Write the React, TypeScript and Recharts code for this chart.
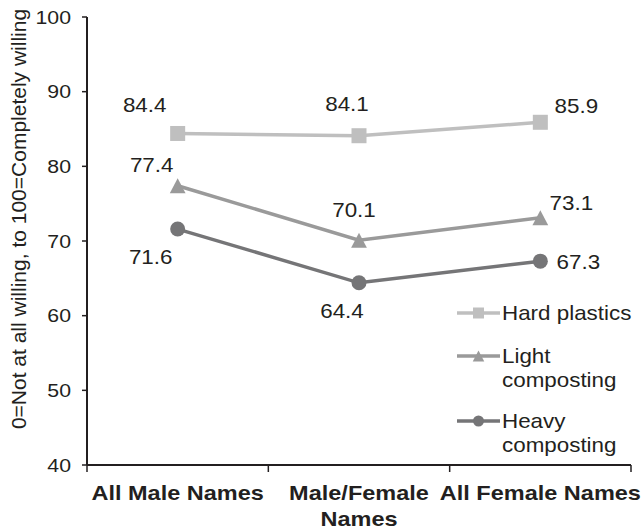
import React from "react";
import { LineChart, Line, XAxis, YAxis, Legend, LabelList } from "recharts";

// categories along the x axis, with how each label wraps
const categories = ["All Male Names", "Male/Female Names", "All Female Names"];
const categoryLines = [["All Male Names"], ["Male/Female", "Names"], ["All Female Names"]];

// mean willingness scores
const hardPlastics = [84.4, 84.1, 85.9];
const lightComposting = [77.4, 70.1, 73.1];
const heavyComposting = [71.6, 64.4, 67.3];

const yTicks = [40, 50, 60, 70, 80, 90, 100];

const data = categories.map((name, i) => ({
  name,
  hard: hardPlastics[i],
  light: lightComposting[i],
  heavy: heavyComposting[i],
}));

const FONT = '"Liberation Sans", Arial, Helvetica, sans-serif';
const INK = "#231f20";
const W = 643;
const H = 532;
const PLOT_W = 544;
const BAND_HALF = PLOT_W / 6;
// the original's type is a little wider than Arial
const STRETCH = 1.12;

// where each value label sits relative to its point (hand placed, like the original)
const hardShift = [[-33, -29], [-12, -32], [36, -16]];
const lightShift = [[-26, -21], [-5, -30], [31, -15]];
const heavyShift = [[-27, 28], [-17, 28], [38, 1]];

const series = [
  { key: "hard", name: "Hard plastics", legend: ["Hard plastics"], color: "#bfbfbf", shape: "square", shift: hardShift },
  { key: "light", name: "Light composting", legend: ["Light", "composting"], color: "#9a9a9a", shape: "triangle", shift: lightShift },
  { key: "heavy", name: "Heavy composting", legend: ["Heavy", "composting"], color: "#757577", shape: "circle", shift: heavyShift },
];

function SText({ x, y, anchor = "middle", size, bold, baseline, children }: any) {
  return (
    <g transform={`translate(${x} ${y}) scale(${STRETCH} 1)`}>
      <text
        x={0}
        y={0}
        textAnchor={anchor}
        dominantBaseline={baseline}
        fontFamily={FONT}
        fontSize={size}
        fontWeight={bold ? "bold" : "normal"}
        fill={INK}
      >
        {children}
      </text>
    </g>
  );
}

function Marker({ shape, cx, cy, size, color }: any) {
  if (shape === "square") {
    return <rect x={cx - size / 2} y={cy - size / 2} width={size} height={size} fill={color} />;
  }
  if (shape === "triangle") {
    const w = size * 1.05;
    return (
      <polygon
        points={`${cx},${cy - size / 2} ${cx + w / 2},${cy + size / 2} ${cx - w / 2},${cy + size / 2}`}
        fill={color}
      />
    );
  }
  return <circle cx={cx} cy={cy} r={size / 2} fill={color} />;
}

function CategoryTick(props: any) {
  const { x, y, index } = props;
  const lines = categoryLines[index] || [];
  return (
    <g>
      <line x1={x - BAND_HALF} x2={x - BAND_HALF} y1={y} y2={y + 7} stroke={INK} strokeWidth={1.5} />
      {index === categories.length - 1 && (
        <line x1={x + BAND_HALF} x2={x + BAND_HALF} y1={y} y2={y + 7} stroke={INK} strokeWidth={1.5} />
      )}
      {lines.map((t: string, i: number) => (
        <SText key={t} x={x} y={y + 35 + i * 26} size={21} bold>
          {t}
        </SText>
      ))}
    </g>
  );
}

function ValueTick(props: any) {
  const { x, y, payload } = props;
  return (
    <SText x={x} y={y} anchor="end" baseline="central" size={19}>
      {payload.value}
    </SText>
  );
}

function valueLabel(props: any, shift: number[][]) {
  const { x, y, value, index } = props;
  const [dx, dy] = shift[index] || [0, -20];
  return (
    <SText key={`lbl-${index}`} x={x + dx} y={y + dy} baseline="central" size={20}>
      {value.toFixed(1)}
    </SText>
  );
}

function LegendBox() {
  const rows = [15, 58, 123];
  return (
    <svg width={190} height={165} style={{ display: "block" }}>
      {series.map((s, i) => (
        <g key={s.key}>
          <line x1={2} x2={45} y1={rows[i]} y2={rows[i]} stroke={s.color} strokeWidth={3.5} />
          <Marker shape={s.shape} cx={23.5} cy={rows[i]} size={11} color={s.color} />
          {s.legend.map((t, j) => (
            <SText key={t} x={47} y={rows[i] + j * 24} anchor="start" baseline="central" size={20}>
              {t}
            </SText>
          ))}
        </g>
      ))}
    </svg>
  );
}

export default function App() {
  return (
    <div style={{ position: "absolute", left: 0, top: 0, width: W, height: H, background: "#fff" }}>
      <LineChart width={W} height={H} data={data} margin={{ top: 17, right: 12, bottom: 0, left: 0 }}>
        <XAxis
          dataKey="name"
          height={67}
          padding={{ left: BAND_HALF, right: BAND_HALF }}
          axisLine={{ stroke: INK, strokeWidth: 2 }}
          tickLine={false}
          tickSize={0}
          tickMargin={0}
          interval={0}
          tick={<CategoryTick />}
        />
        <YAxis
          width={87}
          domain={[40, 100]}
          ticks={yTicks}
          interval={0}
          axisLine={{ stroke: INK, strokeWidth: 2 }}
          tickLine={{ stroke: INK, strokeWidth: 1.5 }}
          tickSize={5}
          tickMargin={11}
          tick={<ValueTick />}
          label={{
            content: () => (
              <text
                x={18}
                y={219}
                transform="rotate(-90 18 219)"
                textAnchor="middle"
                dominantBaseline="central"
                fontFamily={FONT}
                fontSize={21}
                fill={INK}
              >
                0=Not at all willing, to 100=Completely willing
              </text>
            ),
          }}
        />
        {series.map((s) => (
          <Line
            key={s.key}
            dataKey={s.key}
            name={s.name}
            type="linear"
            stroke={s.color}
            strokeWidth={3.5}
            isAnimationActive={false}
            dot={(p: any) => (
              <Marker key={`${s.key}-${p.index}`} shape={s.shape} cx={p.cx} cy={p.cy} size={15} color={s.color} />
            )}
            activeDot={false}
          >
            <LabelList dataKey={s.key} content={(p: any) => valueLabel(p, s.shift)} />
          </Line>
        ))}
        <Legend
          layout="vertical"
          align="center"
          verticalAlign="middle"
          wrapperStyle={{ position: "absolute", left: 455, top: 298, width: 190 }}
          content={() => <LegendBox />}
        />
      </LineChart>
    </div>
  );
}
